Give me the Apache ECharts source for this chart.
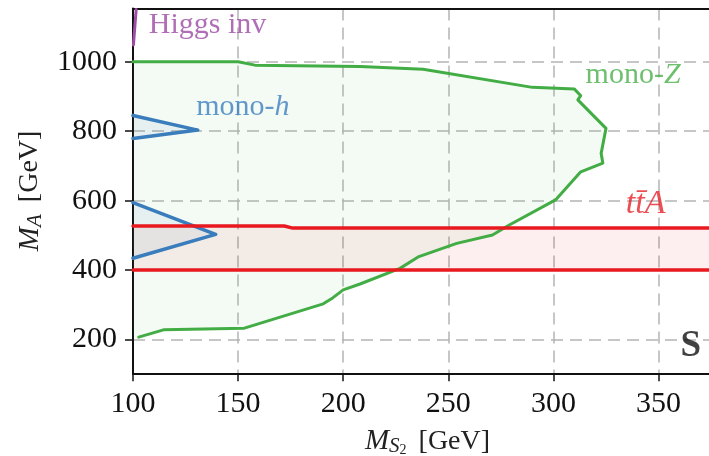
<!DOCTYPE html>
<html>
<head>
<meta charset="utf-8">
<script src="https://cdn.jsdelivr.net/npm/echarts@6/dist/echarts.min.js"></script>
<style>
  html, body { margin: 0; padding: 0; background: #fff; }
  #chart { width: 709px; height: 456px; }
</style>
</head>
<body>
<div id="chart"></div>
<script>
// contour points: [M_S2, M_A]
const monoZ = [[100, 1000], [150, 1000], [158, 990], [208, 986], [238, 978], [290, 926], [310, 921],
    [313, 902], [311.6, 890], [325, 808], [322.7, 736], [323.5, 708], [313, 683], [301, 602],
    [279, 530], [271, 501], [254, 477], [236, 439], [227, 405], [208, 360], [200, 343],
    [195, 320], [190.5, 303], [153, 233], [114.5, 228], [102.7, 207]]
const monoZFillEdge = [[100, 207]]
const monoHUpper = [[100, 845], [130.8, 803], [100, 779]]
const monoHLower = [[100, 594], [139.3, 503], [100, 434]]
const ttaUpper = [[100, 527], [172, 527], [176, 521], [374, 521]]
const ttaLower = [[100, 400], [374, 400]]
const higgsInv = [[100.2, 1048], [101.5, 1150]]

const xTicks = [100, 150, 200, 250, 300, 350]
const yTicks = [200, 400, 600, 800, 1000]
const xRange = [100, 374]
const yRange = [103, 1153]

// label anchors (data coords)
const labelHiggs = [107.5, 1104]
const labelMonoH = [130.1, 869]
const labelMonoZ = [315.3, 960]
const labelTtA = [334.4, 590]
const labelS = [370.2, 180]

const SERIF = "'Liberation Serif', 'DejaVu Serif', serif"

const chart = echarts.init(document.getElementById('chart'))

function polygon(points, fill) {
    return {
        type: 'custom',
        silent: true,
        clip: true,
        z: 1,
        data: [[points[0][0], points[0][1]]],
        renderItem: (params, api) => ({
            type: 'polygon',
            shape: { points: points.map((p) => api.coord(p)) },
            style: { fill: fill }
        })
    }
}

function curve(points, color, width) {
    return {
        type: 'line',
        data: points,
        showSymbol: false,
        silent: true,
        z: 3,
        lineStyle: { color: color, width: width, cap: 'round', join: 'round' }
    }
}

function note(pos, text, side, rich, color) {
    return {
        type: 'scatter',
        data: [pos],
        symbolSize: 0,
        silent: true,
        z: 5,
        label: {
            show: true,
            position: side,
            distance: 0,
            formatter: text,
            color: color,
            fontFamily: SERIF,
            fontSize: 30,
            verticalAlign: 'middle',
            rich: rich
        }
    }
}

const nameRich = {
    i: { fontFamily: SERIF, fontSize: 29, fontStyle: 'italic', color: '#222', lineHeight: 32 },
    s: { fontFamily: SERIF, fontSize: 21, fontStyle: 'italic', color: '#222', verticalAlign: 'bottom', lineHeight: 19 },
    ss: { fontFamily: SERIF, fontSize: 14, color: '#222', verticalAlign: 'bottom', lineHeight: 8 },
    n: { fontFamily: SERIF, fontSize: 28, color: '#222', lineHeight: 32, padding: [0, 0, 0, 12] }
}

const gridDash = { type: [12, 7], color: '#b4b4b4', width: 1.5 }
const plain = (v) => String(v)

const option = {
    animation: false,
    grid: { left: 133, right: 0, top: 8.5, bottom: 82.7, outerBoundsMode: 'none' },
    xAxis: [
        {
            type: 'value',
            min: xRange[0],
            max: xRange[1],
            name: '{i|M}{s|S}{ss|2}{n|[GeV]}',
            nameLocation: 'middle',
            nameGap: 52,
            nameTextStyle: { rich: nameRich, padding: [0, 0, 0, 13] },
            axisLine: { lineStyle: { color: '#111', width: 2 } },
            axisTick: { length: 8, customValues: xTicks, lineStyle: { color: '#111', width: 1.5 } },
            axisLabel: { customValues: xTicks, margin: 16, fontFamily: SERIF, fontSize: 30, color: '#111', formatter: plain },
            splitLine: { show: true, customValues: xTicks.slice(1), lineStyle: gridDash }
        },
        {
            type: 'value',
            position: 'top',
            min: xRange[0],
            max: xRange[1],
            axisLine: { lineStyle: { color: '#111', width: 2 } },
            axisTick: { show: false },
            axisLabel: { show: false },
            splitLine: { show: false }
        }
    ],
    yAxis: {
        type: 'value',
        min: yRange[0],
        max: yRange[1],
        name: '{i|M}{s|A}{n|[GeV]}',
        nameLocation: 'middle',
        nameGap: 80,
        nameTextStyle: { rich: nameRich },
        axisLine: { lineStyle: { color: '#111', width: 2 } },
        axisTick: { length: 8, customValues: yTicks, lineStyle: { color: '#111', width: 1.5 } },
        axisLabel: { customValues: yTicks, margin: 16, fontFamily: SERIF, fontSize: 30, color: '#111', formatter: plain },
        splitLine: { show: true, customValues: yTicks, lineStyle: gridDash }
    },
    series: [
        polygon(monoZ.concat(monoZFillEdge), 'rgba(60,170,60,0.06)'),
        polygon(ttaUpper.concat(ttaLower.slice().reverse()), 'rgba(230,30,30,0.07)'),
        polygon(monoHUpper, 'rgba(60,120,190,0.08)'),
        polygon(monoHLower, 'rgba(60,120,190,0.08)'),
        curve(monoZ, '#43ad45', 3),
        curve(monoHUpper, '#3a7dbd', 3.5),
        curve(monoHLower, '#3a7dbd', 3.5),
        curve(ttaUpper, '#e8191f', 3.5),
        curve(ttaLower, '#e8191f', 3.5),
        curve(higgsInv, '#a04da5', 3),
        note(labelHiggs, 'Higgs inv', 'right', {}, '#9b4aa3'),
        note(labelMonoH, 'mono-{it|h}', 'right',
            { it: { fontFamily: SERIF, fontSize: 30, fontStyle: 'italic', color: '#3d7fc0' } }, '#3d7fc0'),
        note(labelMonoZ, 'mono-{it|Z}', 'right',
            { it: { fontFamily: SERIF, fontSize: 30, fontStyle: 'italic', color: '#4aaf4a' } }, '#4aaf4a'),
        note(labelTtA, '{it|tt\u0304A}', 'right',
            { it: { fontFamily: SERIF, fontSize: 34, fontStyle: 'italic', color: '#e62228' } }, '#e62228'),
        note(labelS, '{b|S}', 'left',
            { b: { fontFamily: SERIF, fontSize: 37, fontWeight: 'bold', color: '#111' } }, '#111')
    ]
}
chart.setOption(option)
</script>
</body>
</html>
